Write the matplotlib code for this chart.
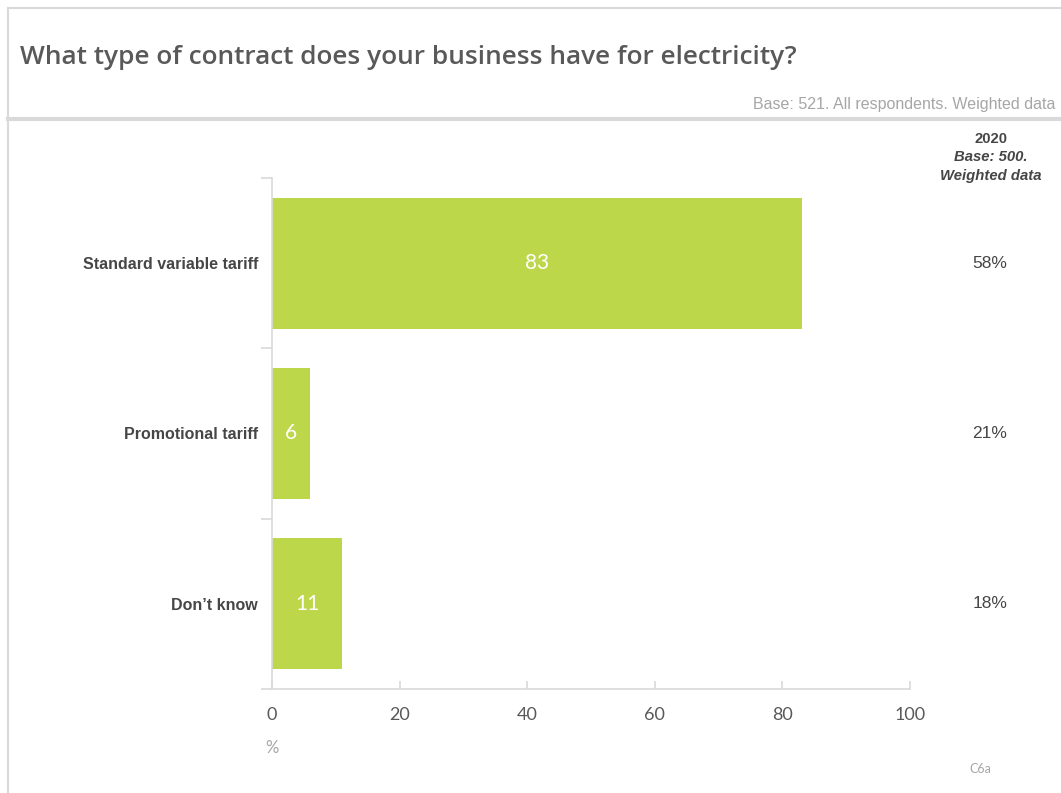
import numpy as np
import matplotlib.pyplot as plt
from matplotlib.lines import Line2D

# survey answers, current wave and 2020 comparison
categories = ['Standard variable tariff', 'Promotional tariff', 'Don\u2019t know']
values = [83, 6, 11]
values_2020 = ['58%', '21%', '18%']
x_ticks = [0, 20, 40, 60, 80, 100]

title = 'What type of contract does your business have for electricity?'
base_note = 'Base: 521. All respondents. Weighted data'

BAR = '#BDD74B'
GRID = '#D9D9D9'
DARK = '#464646'
MID = '#595959'
LIGHT = '#A6A6A6'

W, H = 1061, 793
fig = plt.figure(figsize=(W / 100, H / 100), dpi=100)

def fx(px):
    return px / W

def fy(py):
    return 1 - py / H

# slide frame
fig.add_artist(Line2D([fx(8), fx(8)], [fy(8), 0], color=GRID, lw=1.5))
fig.add_artist(Line2D([fx(8), 1], [fy(8), fy(8)], color=GRID, lw=1.5))
fig.add_artist(Line2D([fx(8), 1], [fy(119), fy(119)], color=GRID, lw=3))

fig.text(fx(20), fy(57), title, ha='left', va='center', fontsize=18.9,
         family='Open Sans', fontweight='semibold', color=MID)
fig.text(fx(1055), fy(104), base_note, ha='right', va='center', fontsize=11.5,
         family='Liberation Sans', color=LIGHT)

ax = fig.add_axes([fx(272), fy(689), fx(910) - fx(272), fy(178) - fy(689)])
y = np.arange(len(categories))
ax.barh(y, values, height=0.77, color=BAR)
ax.set_ylim(len(categories) - 0.5, -0.5)
ax.set_xlim(0, 100)

for yi, v in zip(y, values):
    ax.text(v / 2, yi, str(v), ha='center', va='center', color='white',
            fontsize=15, family='Lato')

ax.set_yticks(y)
ax.set_yticklabels(categories, fontsize=11.5, family='Liberation Sans',
                   fontweight='bold', color=DARK)
ax.set_yticks(np.arange(len(categories) + 1) - 0.5, minor=True)
ax.tick_params(axis='y', which='major', length=0, pad=10)
ax.tick_params(axis='y', which='minor', length=8, color=GRID, width=1.2)

ax.set_xticks(x_ticks)
ax.set_xticklabels([str(t) for t in x_ticks], fontsize=13, family='Lato', color=MID)
ax.tick_params(axis='x', direction='in', length=6, color=GRID, width=1.2, pad=13)

for s in ['top', 'right']:
    ax.spines[s].set_visible(False)
for s in ['left', 'bottom']:
    ax.spines[s].set_color(GRID)
    ax.spines[s].set_linewidth(1.2)

# 2020 comparison column
hdr = dict(ha='center', va='center', fontsize=10.7, family='Liberation Sans',
           fontweight='bold', color=DARK)
fig.text(fx(991), fy(139), '2020', **hdr)
fig.text(fx(991), fy(157), 'Base: 500.', style='italic', **hdr)
fig.text(fx(991), fy(176), 'Weighted data', style='italic', **hdr)
for yi, lab in zip(y, values_2020):
    ax.annotate(lab, xy=(0, yi), xycoords=('figure fraction', 'data'),
                xytext=(fx(990), 0), textcoords=('figure fraction', 'offset points'),
                ha='center', va='center', fontsize=12.5, family='Liberation Sans',
                color=DARK, annotation_clip=False)

fig.text(fx(272), fy(748), '%', ha='center', va='center', fontsize=12,
         family='Lato', color=LIGHT)
fig.text(fx(980), fy(769), 'C6a', ha='center', va='center', fontsize=9,
         family='Lato', color=LIGHT)

fig.savefig('out.png', dpi=100)
